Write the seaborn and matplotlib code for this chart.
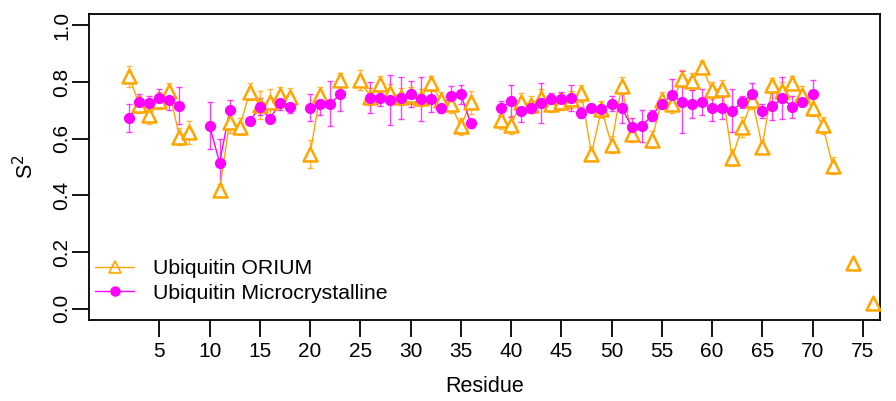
import numpy as np
import pandas as pd
import matplotlib
matplotlib.use("Agg")
import matplotlib.pyplot as plt
from matplotlib.lines import Line2D
import seaborn as sns

# 數據 (residue 2..76)
residues = np.arange(2, 77)

orium = [0.82, 0.72, 0.682, 0.734, 0.768, 0.607, 0.623, np.nan, np.nan, 0.42,
         0.66, 0.642, 0.765, 0.72, 0.73, 0.753, 0.748, np.nan, 0.545, 0.754,
         np.nan, 0.806, np.nan, 0.806, 0.748, 0.792, 0.763, 0.748, 0.754, 0.745,
         0.795, 0.736, 0.722, 0.644, 0.728, np.nan, np.nan, 0.665, 0.648, 0.73,
         0.72, 0.745, 0.723, 0.73, 0.74, 0.76, 0.547, 0.704, 0.579, 0.786,
         0.618, np.nan, 0.597, 0.735, 0.722, 0.812, 0.803, 0.853, 0.771, 0.777,
         0.533, 0.642, 0.736, 0.572, 0.789, 0.77, 0.798, 0.755, 0.71, 0.648,
         0.505, np.nan, 0.161, np.nan, 0.02]

orium_err = [0.038, 0.03, 0.03, 0.03, 0.03, 0.03, 0.04, 0, 0, 0.02,
             0.04, 0.03, 0.03, 0.05, 0.045, 0.03, 0.03, 0, 0.05, 0.03,
             0, 0.025, 0, 0.035, 0.03, 0.03, 0.03, 0.03, 0.03, 0.03,
             0.025, 0.03, 0.03, 0.03, 0.04, 0, 0, 0.03, 0.033, 0.03,
             0.03, 0.03, 0.03, 0.03, 0.03, 0.03, 0.025, 0.03, 0.03, 0.03,
             0.03, 0, 0.03, 0.03, 0.03, 0.03, 0.03, 0.02, 0.03, 0.03,
             0.03, 0.035, 0.03, 0.025, 0.025, 0.03, 0.025, 0.03, 0.03, 0.03,
             0.03, 0, 0.0, 0, 0.0]

micro = [0.674, 0.73, 0.726, 0.744, 0.738, 0.716, np.nan, np.nan, 0.645, 0.515,
         0.70, np.nan, 0.662, 0.712, 0.67, 0.726, 0.712, np.nan, 0.709, 0.724,
         0.724, 0.756, np.nan, np.nan, 0.744, 0.744, 0.736, 0.744, 0.758, 0.74,
         0.74, 0.71, 0.75, 0.756, 0.654, np.nan, np.nan, 0.707, 0.733, 0.698,
         0.71, 0.727, 0.74, 0.74, 0.744, 0.692, 0.709, 0.704, 0.724, 0.71,
         0.643, 0.645, 0.681, 0.724, 0.755, 0.73, 0.723, 0.73, 0.707, 0.709,
         0.698, 0.73, 0.756, 0.698, 0.716, 0.742, 0.712, 0.73, 0.756, np.nan,
         np.nan, np.nan, np.nan, np.nan, np.nan]

micro_err = [0.049, 0.028, 0.025, 0.032, 0.035, 0.065, 0, 0, 0.083, 0.085,
             0.035, 0, 0.015, 0.03, 0.012, 0.025, 0.02, 0, 0.048, 0.04,
             0.078, 0.06, 0, 0, 0.055, 0.03, 0.088, 0.073, 0.047, 0.076,
             0.045, 0.02, 0.035, 0.035, 0.015, 0, 0, 0.025, 0.055, 0.04,
             0.02, 0.07, 0.02, 0.025, 0.045, 0.02, 0.015, 0.015, 0.025, 0.055,
             0.03, 0.055, 0.02, 0.015, 0.055, 0.11, 0.05, 0.045, 0.045, 0.04,
             0.076, 0.02, 0.04, 0.025, 0.05, 0.074, 0.04, 0.015, 0.05, 0,
             0, 0, 0, 0, 0]

c_orium = "#FFA500"
c_micro = "#FF00FF"


def segments(x, y):
    # 把 NaN 斷開的連續段編號
    d = pd.DataFrame({"Residue": x, "S2": y})
    d["seg"] = d["S2"].isna().cumsum()
    return d.dropna()


sns.set_theme(style="white")
plt.rcParams["font.family"] = ["Liberation Sans", "DejaVu Sans"]
plt.rcParams["text.color"] = "black"
plt.rcParams["axes.labelcolor"] = "black"

fig, ax = plt.subplots(figsize=(8.96, 4.01), dpi=100)
fig.subplots_adjust(left=0.0993, right=0.982, top=0.965, bottom=0.202)

d1 = segments(residues, orium)
d2 = segments(residues, micro)

ax.errorbar(residues, orium, yerr=orium_err, fmt="none", ecolor=c_orium,
            alpha=0.75, elinewidth=1.0, capsize=2.5, capthick=1.0, zorder=2)
ax.errorbar(residues, micro, yerr=micro_err, fmt="none", ecolor=c_micro,
            alpha=0.75, elinewidth=1.0, capsize=2.5, capthick=1.0, zorder=2)

sns.lineplot(data=d1, x="Residue", y="S2", units="seg", estimator=None,
             color=c_orium, lw=1.0, ax=ax, zorder=3)
sns.lineplot(data=d2, x="Residue", y="S2", units="seg", estimator=None,
             color=c_micro, lw=1.0, ax=ax, zorder=3)

sns.scatterplot(data=d1, x="Residue", y="S2", marker="^", s=100,
                facecolor="white", edgecolor=c_orium, linewidth=1.8, ax=ax, zorder=4)
sns.scatterplot(data=d2, x="Residue", y="S2", marker="o", s=65,
                color=c_micro, edgecolor=c_micro, linewidth=0, ax=ax, zorder=5)

ax.set_xlim(-2, 76.7)
ax.set_ylim(-0.04, 1.04)
ax.set_xticks(np.arange(5, 80, 5))
ax.set_yticks(np.arange(0, 1.01, 0.2))
ax.set_yticklabels([f"{v:.1f}" for v in np.arange(0, 1.01, 0.2)], rotation=90, va="center")
ax.tick_params(axis="both", direction="out", length=12, width=1.3, labelsize=15,
               colors="black", bottom=True, left=True)
ax.tick_params(axis="x", pad=4)
ax.tick_params(axis="y", pad=1)
for s in ax.spines.values():
    s.set_color("black")
    s.set_linewidth(1.3)

ax.set_xlabel("Residue", fontsize=15.5, labelpad=11)
ax.set_ylabel("S$^2$", fontsize=15.5, labelpad=10)

handles = [
    Line2D([], [], color=c_orium, lw=1.0, marker="^", markersize=8,
           markerfacecolor="none", markeredgecolor=c_orium, markeredgewidth=1.2),
    Line2D([], [], color=c_micro, lw=1.0, marker="o", markersize=6.5,
           markerfacecolor=c_micro, markeredgecolor=c_micro),
]
ax.legend(handles, ["Ubiquitin ORIUM", "Ubiquitin Microcrystalline"],
          loc="lower left", bbox_to_anchor=(-0.016, -0.006), frameon=False,
          fontsize=15.3, handlelength=1.8, handletextpad=0.9, labelspacing=0.25)

fig.savefig("out.png", dpi=100)
